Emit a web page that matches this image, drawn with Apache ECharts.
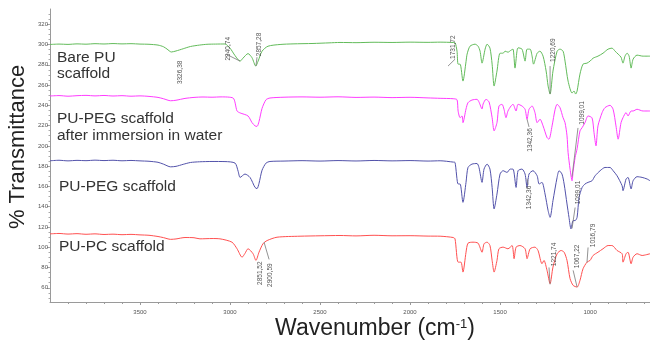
<!DOCTYPE html>
<html><head><meta charset="utf-8">
<script src="https://cdn.jsdelivr.net/npm/echarts@6/dist/echarts.min.js"></script>
<style>html,body{margin:0;padding:0;background:#fff}#c{width:650px;height:348px}</style>
</head><body><div id="c"></div>
<script>
// [wavenumber cm-1, % transmittance (offset)]
const barePU = [[4000,300.0],[3950,300.4],[3900,300.1],[3850,300.6],[3800,300.3],[3750,300.8],[3700,300.5],[3650,300.9],[3600,300.6],[3550,300.8],[3500,300.4],[3450,300.2],[3400,299.4],[3370,297.8],[3350,295.5],[3326,292.6],[3300,293.6],[3260,295.8],[3220,298.0],[3170,299.4],[3128,300.2],[3080,300.4],[3028,300.5],[3000,296.4],[2972,289.0],[2944,283.6],[2928,286.5],[2900,291.0],[2878,287.0],[2857,278.7],[2844,283.6],[2822,293.4],[2789,298.3],[2722,300.0],[2650,300.6],[2539,301.0],[2450,301.6],[2389,302.0],[2300,301.8],[2200,302.2],[2100,302.0],[2000,302.3],[1900,302.1],[1833,302.3],[1760,302.0],[1750,301.8],[1739,293.4],[1733,280.6],[1722,280.6],[1706,263.9],[1689,283.0],[1683,290.5],[1667,298.3],[1639,300.3],[1622,298.3],[1611,293.4],[1600,281.6],[1583,295.4],[1572,300.3],[1556,296.4],[1544,280.6],[1533,259.0],[1517,273.8],[1500,291.4],[1483,291.4],[1472,293.4],[1456,292.4],[1439,294.4],[1428,295.4],[1417,276.7],[1406,293.4],[1400,296.7],[1378,295.4],[1361,283.6],[1350,295.4],[1333,295.4],[1322,288.5],[1314,280.6],[1294,291.4],[1278,293.4],[1261,288.5],[1244,273.8],[1233,259.0],[1222,251.1],[1206,273.8],[1183,293.4],[1167,295.4],[1150,293.4],[1139,283.6],[1122,263.9],[1100,252.1],[1089,254.1],[1080,251.1],[1072,254.1],[1056,270.8],[1039,280.6],[1017,281.6],[1000,283.6],[983,286.5],[956,288.5],[928,291.4],[900,295.4],[878,296.4],[861,293.4],[844,290.5],[828,287.5],[817,281.6],[806,288.5],[794,291.4],[783,288.5],[772,276.7],[761,285.5],[739,289.5],[706,288.5],[667,288.5]];

const pegWater = [[4000,249.2],[3950,249.6],[3900,249.0],[3850,249.5],[3800,249.8],[3750,249.3],[3700,249.7],[3650,249.2],[3600,249.5],[3550,249.0],[3500,249.3],[3450,248.8],[3400,247.8],[3370,246.5],[3330,244.5],[3300,245.0],[3250,246.8],[3200,247.8],[3150,248.2],[3100,248.0],[3050,248.3],[2983,247.2],[2961,234.4],[2944,232.5],[2900,229.5],[2878,223.0],[2861,219.7],[2850,219.2],[2839,224.0],[2822,237.0],[2800,245.5],[2778,247.2],[2700,248.0],[2600,248.3],[2500,248.0],[2400,248.4],[2300,247.8],[2200,248.1],[2100,247.6],[2000,247.9],[1900,247.3],[1833,246.9],[1760,246.5],[1739,245.5],[1733,234.4],[1722,227.8],[1711,229.5],[1706,222.9],[1689,236.4],[1678,242.6],[1656,245.2],[1628,245.9],[1617,243.3],[1600,236.4],[1594,241.3],[1578,245.9],[1561,243.3],[1544,227.8],[1533,214.8],[1517,222.9],[1506,239.3],[1489,241.0],[1478,236.1],[1467,227.8],[1456,234.4],[1439,239.3],[1428,241.0],[1411,234.4],[1400,241.0],[1378,239.3],[1361,236.1],[1350,226.3],[1339,236.1],[1322,239.3],[1306,232.8],[1294,222.9],[1278,226.3],[1261,219.7],[1239,208.2],[1228,206.6],[1211,219.7],[1194,236.1],[1183,241.0],[1167,237.7],[1150,227.8],[1139,222.9],[1128,209.9],[1122,193.4],[1111,177.1],[1100,165.6],[1094,175.0],[1083,188.5],[1072,197.1],[1056,214.8],[1044,218.0],[1028,222.9],[1011,229.5],[989,227.6],[978,213.1],[967,200.0],[956,219.7],[933,232.8],[917,237.7],[889,240.0],[872,236.1],[856,219.7],[844,206.6],[828,222.9],[817,227.8],[800,232.8],[789,229.5],[772,234.4],[761,234.4],[739,236.1],[706,234.4],[667,234.4]];

const pegScaffold = [[4000,185.3],[3950,185.8],[3900,185.2],[3850,185.7],[3800,185.4],[3750,185.9],[3700,185.5],[3650,185.8],[3600,185.3],[3550,185.6],[3500,185.2],[3450,184.8],[3400,183.8],[3370,182.0],[3330,179.3],[3300,179.8],[3260,181.8],[3220,183.6],[3170,184.3],[3100,184.6],[3028,184.5],[2972,183.0],[2955,175.0],[2944,168.9],[2917,172.2],[2889,168.9],[2861,159.0],[2850,157.8],[2839,163.0],[2822,176.0],[2800,183.0],[2778,184.6],[2700,185.0],[2600,185.4],[2500,185.0],[2400,185.5],[2300,185.1],[2200,185.6],[2100,185.2],[2000,185.5],[1900,185.0],[1833,185.3],[1760,184.0],[1750,183.6],[1733,162.4],[1722,162.4],[1706,144.3],[1689,164.0],[1678,178.7],[1656,182.0],[1628,182.6],[1617,178.7],[1600,164.0],[1589,177.1],[1572,182.0],[1556,177.1],[1544,159.0],[1533,137.8],[1517,152.5],[1500,172.2],[1483,175.5],[1461,173.8],[1444,177.1],[1428,177.1],[1411,159.0],[1400,175.5],[1378,177.1],[1361,172.2],[1350,159.0],[1339,172.2],[1317,175.5],[1294,170.5],[1283,162.4],[1267,164.0],[1250,152.5],[1233,136.1],[1222,129.5],[1206,146.0],[1183,168.9],[1172,175.5],[1156,172.2],[1144,162.4],[1128,142.7],[1117,129.5],[1106,118.1],[1094,126.3],[1083,126.3],[1072,129.5],[1061,149.2],[1044,159.0],[1028,162.4],[1011,164.0],[989,165.6],[972,170.5],[944,175.5],[917,178.7],[889,178.7],[872,175.5],[850,170.5],[822,160.7],[817,155.8],[800,167.3],[789,168.9],[772,157.5],[761,165.6],[739,169.6],[711,168.9],[683,167.3],[667,165.6]];

const pcScaffold = [[4000,113.2],[3950,113.6],[3900,113.0],[3850,113.4],[3800,112.8],[3750,113.2],[3700,112.6],[3650,112.9],[3600,112.4],[3550,112.7],[3500,112.2],[3450,111.8],[3400,110.6],[3370,109.5],[3330,107.8],[3300,108.2],[3250,109.6],[3200,109.4],[3167,108.3],[3100,108.6],[3056,108.3],[2989,105.0],[2961,98.5],[2933,90.2],[2917,93.9],[2900,98.5],[2872,93.6],[2856,87.0],[2839,95.1],[2817,103.4],[2794,106.6],[2739,109.9],[2611,110.9],[2500,111.3],[2389,111.6],[2300,111.2],[2200,111.8],[2100,111.3],[2000,111.4],[1900,111.0],[1833,110.9],[1760,109.6],[1750,108.3],[1733,85.3],[1717,85.3],[1706,75.5],[1689,95.1],[1678,104.0],[1650,105.0],[1622,104.0],[1600,95.1],[1589,103.4],[1572,105.0],[1556,101.7],[1544,87.0],[1533,75.5],[1517,87.0],[1506,98.5],[1483,100.1],[1456,98.5],[1433,101.7],[1422,88.7],[1411,100.1],[1389,101.7],[1361,98.5],[1350,88.7],[1333,98.5],[1306,100.1],[1289,96.8],[1267,83.7],[1256,87.0],[1239,77.2],[1222,64.1],[1206,80.4],[1183,93.6],[1161,96.8],[1144,95.1],[1128,87.0],[1111,69.0],[1094,62.4],[1072,60.7],[1056,67.3],[1039,78.8],[1017,85.3],[1000,87.0],[983,91.9],[956,95.1],[928,98.5],[900,101.7],[878,101.7],[850,96.8],[822,93.6],[817,85.3],[800,93.6],[789,95.1],[772,83.7],[761,90.2],[739,93.6],[711,91.9],[667,93.6]];

const seriesNames = ['Bare PU scaffold', 'PU-PEG scaffold after immersion in water', 'PU-PEG scaffold', 'PU-PC scaffold'];
const seriesColors = ['#62bb5a', '#ff3cff', '#5252aa', '#ff5050'];

// peak notes: [label, textWn, textT, lineFromWn, lineFromT, lineToWn, lineToT]
const peakNotes = [
  ['3326,38', 3278, 272.5, null, null, null, null],
  ['2940,74', 3011, 295.8, 3022, 290.5, 2944, 283.6],
  ['2857,28', 2839, 300.0, 2850, 287.5, 2856, 278.7],
  ['1731,72', 1761, 297.3, 1750, 285.5, 1789, 278.7],
  ['1220,69', 1206, 294.4, 1222, 278.7, 1222, 251.1],
  ['1342,36', 1333, 205.8, 1350, 226.3, 1339, 218.7],
  ['1099,01', 1044, 232.5, 1067, 217.7, 1100, 169.6],
  ['1342,36', 1339, 149.1, 1350, 167.6, 1344, 161.7],
  ['1099,01', 1067, 154.0, 1083, 139.2, 1100, 118.6],
  ['1221,74', 1200, 92.9, 1228, 80.1, 1222, 63.4],
  ['1067,22', 1072, 91.0, 1094, 77.2, 1072, 60.7],
  ['1016,79', 983, 111.6, 1011, 99.8, 1017, 85.0],
  ['2851,52', 2833, 74.4, null, null, null, null],
  ['2900,59', 2778, 72.5, 2811, 105.0, 2783, 88.0]
];

const xLabelValues = [1000, 1500, 2000, 2500, 3000, 3500];
const xMinorTicks = [700,800,900,1000,1100,1200,1300,1400,1500,1600,1700,1800,1900,2000,2100,2200,2300,2400,2500,2600,2700,2800,2900,3000,3100,3200,3300,3400,3500,3600,3700,3800,3900];
const yLabelValues = [60, 80, 100, 120, 140, 160, 180, 200, 220, 240, 260, 280, 300, 320];
const yMinorTicks = [50,55,60,65,70,75,80,85,90,95,100,105,110,115,120,125,130,135,140,145,150,155,160,165,170,175,180,185,190,195,200,205,210,215,220,225,230,235,240,245,250,255,260,265,270,275,280,285,290,295,300,305,310,315,320,325,330];

const X_MIN = 667, X_MAX = 4000, Y_MIN = 46, Y_MAX = 335;
const FONT = 'Liberation Sans, Arial, sans-serif';

const chart = echarts.init(document.getElementById('c'), null, {renderer: 'canvas'});
const allData = [barePU, pegWater, pegScaffold, pcScaffold];

const axisCommonX = {type: 'value', inverse: true, min: X_MIN, max: X_MAX, gridIndex: 0, position: 'bottom', splitLine: {show: false}};
const axisCommonY = {type: 'value', min: Y_MIN, max: Y_MAX, gridIndex: 0, position: 'left', splitLine: {show: false}};

chart.setOption({
  animation: false,
  backgroundColor: '#fff',
  grid: {left: 50, right: 0, top: 9, bottom: 46, containLabel: false},
  xAxis: [
    Object.assign({}, axisCommonX, {
      axisLine: {show: true, lineStyle: {color: '#9a9a9a', width: 1}},
      axisTick: {show: true, customValues: xLabelValues, length: 3, lineStyle: {color: '#9a9a9a'}},
      axisLabel: {show: true, customValues: xLabelValues, fontSize: 6, color: '#555', margin: 7, fontFamily: FONT,
        formatter: function (v) { return String(Math.round(v)); }}
    }),
    Object.assign({}, axisCommonX, {
      axisLine: {show: false},
      axisTick: {show: true, customValues: xMinorTicks, length: 2, lineStyle: {color: '#9a9a9a'}},
      axisLabel: {show: false}
    })
  ],
  yAxis: [
    Object.assign({}, axisCommonY, {
      axisLine: {show: true, lineStyle: {color: '#9a9a9a', width: 1}},
      axisTick: {show: true, customValues: yLabelValues, length: 3, lineStyle: {color: '#9a9a9a'}},
      axisLabel: {show: true, customValues: yLabelValues, fontSize: 6, color: '#555', margin: 2, fontFamily: FONT,
        formatter: function (v) { return String(Math.round(v)); }}
    }),
    Object.assign({}, axisCommonY, {
      axisLine: {show: false},
      axisTick: {show: true, customValues: yMinorTicks, length: 1.5, lineStyle: {color: '#aaa'}},
      axisLabel: {show: false}
    })
  ],
  series: allData.map((d, i) => ({
    name: seriesNames[i],
    type: 'line',
    data: d,
    xAxisIndex: 0, yAxisIndex: 0,
    showSymbol: false,
    smooth: 0.25,
    lineStyle: {color: seriesColors[i], width: 1},
    itemStyle: {color: seriesColors[i]},
    silent: true,
    z: 2
  })).concat([{
    type: 'custom',
    xAxisIndex: 0, yAxisIndex: 0,
    silent: true,
    z: 5,
    data: peakNotes.map(a => [a[1], a[2]]),
    encode: {x: 0, y: 1},
    renderItem: function (params, api) {
      const a = peakNotes[params.dataIndex];
      const t = api.coord([a[1], a[2]]);
      const children = [];
      if (a[3] != null) {
        const p1 = api.coord([a[3], a[4]]);
        const p2 = api.coord([a[5], a[6]]);
        children.push({type: 'line', shape: {x1: p1[0], y1: p1[1], x2: p2[0], y2: p2[1]}, style: {stroke: '#777', lineWidth: 0.8}});
      }
      children.push({type: 'text', x: t[0], y: t[1], rotation: Math.PI / 2,
        style: {text: a[0], fontSize: 6.5, fill: '#555', align: 'center', verticalAlign: 'middle', fontFamily: FONT}});
      return {type: 'group', children: children};
    }
  }]),
  graphic: [
    {type: 'text', x: 18, y: 147, rotation: Math.PI / 2,
      style: {text: '% Transmittance', fontSize: 22, fill: '#222', align: 'center', verticalAlign: 'middle', fontFamily: FONT}},
    {type: 'text', x: 375, y: 329,
      style: {text: 'Wavenumber (cm{sup|-1})', fontSize: 23, fill: '#222', align: 'center', verticalAlign: 'middle', fontFamily: FONT,
        rich: {sup: {fontSize: 13, verticalAlign: 'top', fontFamily: FONT, fill: '#222', padding: [0, 0, 10, 0]}}}},
    {type: 'text', x: 57, y: 66, style: {text: 'Bare PU\nscaffold', fontSize: 15.5, lineHeight: 16, fill: '#333', align: 'left', verticalAlign: 'middle', fontFamily: FONT}},
    {type: 'text', x: 57, y: 127, style: {text: 'PU-PEG scaffold\nafter immersion in water', fontSize: 15.5, lineHeight: 17, fill: '#333', align: 'left', verticalAlign: 'middle', fontFamily: FONT}},
    {type: 'text', x: 59, y: 187, style: {text: 'PU-PEG scaffold', fontSize: 15.5, fill: '#333', align: 'left', verticalAlign: 'middle', fontFamily: FONT}},
    {type: 'text', x: 59, y: 247, style: {text: 'PU-PC scaffold', fontSize: 15.5, fill: '#333', align: 'left', verticalAlign: 'middle', fontFamily: FONT}}
  ]
});
</script>
</body></html>
